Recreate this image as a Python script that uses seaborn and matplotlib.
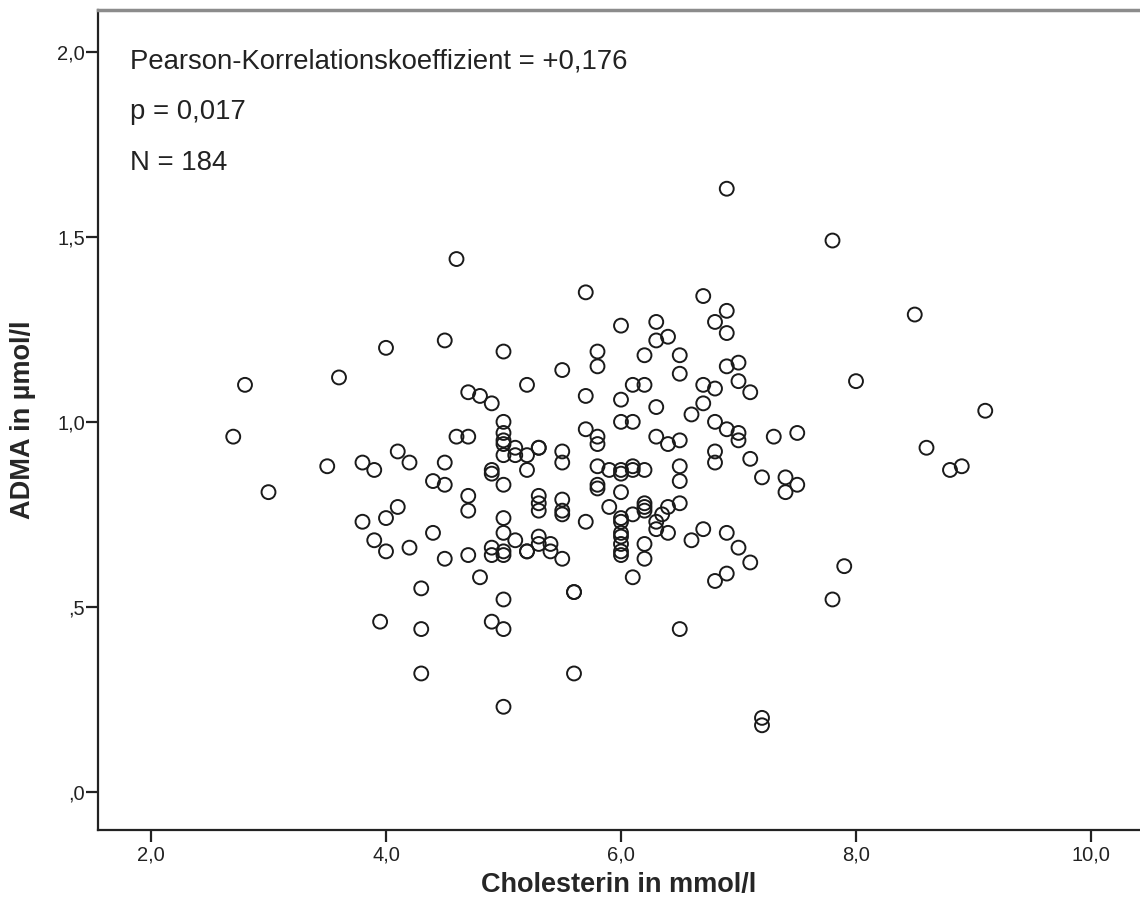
import matplotlib
matplotlib.use("Agg")
import matplotlib.pyplot as plt
import seaborn as sns
import pandas as pd

cholesterol = [
    2.7, 2.8, 3.0, 3.5, 3.6, 3.8, 3.8, 3.9, 3.9, 3.95, 4.0, 4.0, 4.0, 4.1, 4.1, 4.2, 4.2,
    4.3, 4.3, 4.3, 4.4, 4.4, 4.5, 4.5, 4.5, 4.5, 4.6, 4.6, 4.7, 4.7, 4.7, 4.7, 4.7, 4.8, 4.8,
    4.9, 4.9, 4.9, 4.9, 4.9, 4.9,
    5.0, 5.0, 5.0, 5.0, 5.0, 5.0, 5.0, 5.0, 5.0, 5.0, 5.0, 5.0, 5.0, 5.0,
    5.1, 5.1, 5.1, 5.2, 5.2, 5.2, 5.2, 5.2,
    5.3, 5.3, 5.3, 5.3, 5.3, 5.3, 5.3, 5.4, 5.4,
    5.5, 5.5, 5.5, 5.5, 5.5, 5.5, 5.5, 5.6, 5.6, 5.6,
    5.7, 5.7, 5.7, 5.7, 5.8, 5.8, 5.8, 5.8, 5.8, 5.8, 5.8, 5.9, 5.9,
    6.0, 6.0, 6.0, 6.0, 6.0, 6.0, 6.0, 6.0, 6.0, 6.0, 6.0, 6.0, 6.0,
    6.1, 6.1, 6.1, 6.1, 6.1, 6.1,
    6.2, 6.2, 6.2, 6.2, 6.2, 6.2, 6.2, 6.2,
    6.3, 6.3, 6.3, 6.3, 6.3, 6.3, 6.35, 6.4, 6.4, 6.4, 6.4,
    6.5, 6.5, 6.5, 6.5, 6.5, 6.5, 6.5, 6.6, 6.6,
    6.7, 6.7, 6.7, 6.7, 6.8, 6.8, 6.8, 6.8, 6.8, 6.8,
    6.9, 6.9, 6.9, 6.9, 6.9, 6.9, 6.9,
    7.0, 7.0, 7.0, 7.0, 7.0, 7.1, 7.1, 7.1, 7.2, 7.2, 7.2, 7.3, 7.4, 7.4, 7.5, 7.5,
    7.8, 7.8, 7.9, 8.0, 8.5, 8.6, 8.8, 8.9, 9.1,
]
adma = [
    0.96, 1.10, 0.81, 0.88, 1.12, 0.89, 0.73, 0.87, 0.68, 0.46, 1.20, 0.74, 0.65, 0.92, 0.77, 0.89, 0.66,
    0.55, 0.44, 0.32, 0.84, 0.70, 1.22, 0.89, 0.83, 0.63, 1.44, 0.96, 1.08, 0.96, 0.80, 0.76, 0.64, 1.07, 0.58,
    1.05, 0.87, 0.86, 0.66, 0.64, 0.46,
    1.19, 1.00, 0.97, 0.95, 0.94, 0.91, 0.83, 0.74, 0.70, 0.65, 0.64, 0.52, 0.44, 0.23,
    0.93, 0.91, 0.68, 1.10, 0.91, 0.87, 0.65, 0.65,
    0.93, 0.93, 0.80, 0.78, 0.76, 0.69, 0.67, 0.67, 0.65,
    1.14, 0.92, 0.89, 0.79, 0.76, 0.75, 0.63, 0.54, 0.54, 0.32,
    1.35, 1.07, 0.98, 0.73, 1.19, 1.15, 0.96, 0.94, 0.88, 0.83, 0.82, 0.87, 0.77,
    1.26, 1.06, 1.00, 0.87, 0.86, 0.81, 0.74, 0.73, 0.70, 0.69, 0.67, 0.65, 0.64,
    1.10, 1.00, 0.88, 0.87, 0.75, 0.58,
    1.18, 1.10, 0.87, 0.78, 0.77, 0.76, 0.67, 0.63,
    1.27, 1.22, 1.04, 0.96, 0.73, 0.71, 0.75, 1.23, 0.94, 0.77, 0.70,
    1.18, 1.13, 0.95, 0.88, 0.84, 0.78, 0.44, 1.02, 0.68,
    1.34, 1.10, 1.05, 0.71, 1.27, 1.09, 1.00, 0.92, 0.89, 0.57,
    1.63, 1.30, 1.24, 1.15, 0.98, 0.70, 0.59,
    1.16, 1.11, 0.97, 0.95, 0.66, 1.08, 0.90, 0.62, 0.85, 0.20, 0.18, 0.96, 0.85, 0.81, 0.97, 0.83,
    1.49, 0.52, 0.61, 1.11, 1.29, 0.93, 0.87, 0.88, 1.03,
]

x_ticks = [2, 4, 6, 8, 10]
x_tick_labels = ["2,0", "4,0", "6,0", "8,0", "10,0"]
y_ticks = [0.0, 0.5, 1.0, 1.5, 2.0]
y_tick_labels = [",0", ",5", "1,0", "1,5", "2,0"]
stats_lines = ["Pearson-Korrelationskoeffizient = +0,176", "p = 0,017", "N = 184"]

df = pd.DataFrame({"Cholesterin": cholesterol, "ADMA": adma})

sns.set_style("white")
plt.rcParams["font.family"] = ["Liberation Sans", "DejaVu Sans"]

fig = plt.figure(figsize=(11.4, 9.18), dpi=100)
ax = fig.add_axes([98 / 1140, 88 / 918, 1042 / 1140, 820 / 918])

sns.scatterplot(data=df, x="Cholesterin", y="ADMA", ax=ax, s=100,
                facecolors="none", edgecolor="#1a1a1a", linewidth=1.4, legend=False)

ax.set_xlim(1.549, 10.417)
ax.set_ylim(-0.103, 2.113)
ax.set_xticks(x_ticks)
ax.set_xticklabels(x_tick_labels)
ax.set_yticks(y_ticks)
ax.set_yticklabels(y_tick_labels)
ax.tick_params(axis="both", which="both", direction="out", length=8.5, width=1.6,
               colors="#222222", labelsize=14.5, left=True, bottom=True)
ax.tick_params(axis="x", pad=3)
ax.tick_params(axis="y", pad=1)

for side in ["left", "bottom"]:
    ax.spines[side].set_color("#222222")
    ax.spines[side].set_linewidth(1.6)
ax.spines["top"].set_color("#8c8c8c")
ax.spines["top"].set_linewidth(2.5)
ax.spines["right"].set_visible(False)

ax.set_xlabel("Cholesterin in mmol/l", fontsize=19.5, fontweight="bold", labelpad=5)
ax.set_ylabel("ADMA in µmol/l", fontsize=19.5, fontweight="bold", labelpad=15)

for txt, yf in zip(stats_lines, [0.937, 0.876, 0.813]):
    ax.text(0.031, yf, txt, transform=ax.transAxes, fontsize=19.8, color="#222222",
            ha="left", va="center")

fig.savefig("out.png", dpi=100, facecolor="white")
